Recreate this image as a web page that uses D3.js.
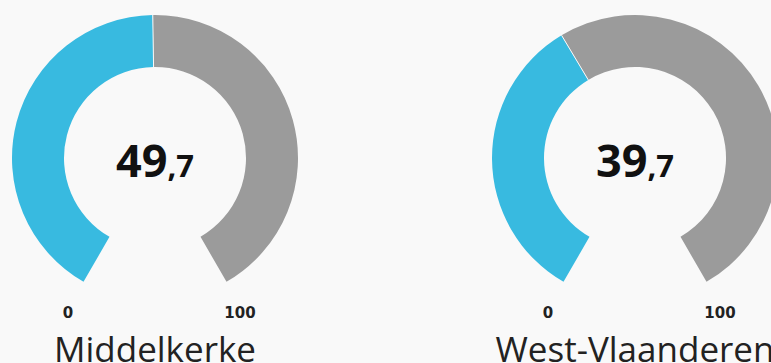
<!DOCTYPE html>
<html>
<head>
<meta charset="utf-8">
<script src="https://cdn.jsdelivr.net/npm/d3@7"></script>
<style>
  html, body { margin: 0; padding: 0; background: #f9f9f9; }
  svg { display: block; }
</style>
</head>
<body>
<svg id="chart" width="771" height="363"></svg>
<script>
// Gauge data: one gauge per region
const regions = ["Middelkerke", "West-Vlaanderen"];
const values = [49.7, 39.7];
const scaleDomain = [0, 100];
const tickLabels = ["0", "100"];

const W = 771, H = 363;
const centersX = [155, 635];
const cy = 158;
const outerR = 143, innerR = 91;
const sweep = 150 * Math.PI / 180;

const colorValue = "#38bae0";
const colorRest = "#9b9b9b";

const svg = d3.select("#chart");

const angle = d3.scaleLinear().domain(scaleDomain).range([-sweep, sweep]);
const arc = d3.arc().innerRadius(innerR).outerRadius(outerR);

regions.forEach((name, i) => {
  const v = values[i];
  const g = svg.append("g").attr("transform", `translate(${centersX[i]},${cy})`);

  // value part and remainder of the gauge
  g.append("path")
    .attr("d", arc({ startAngle: angle(scaleDomain[0]), endAngle: angle(v) }))
    .attr("fill", colorValue);
  g.append("path")
    .attr("d", arc({ startAngle: angle(v), endAngle: angle(scaleDomain[1]) }))
    .attr("fill", colorRest);

  // thin separator between the two segments
  const a = angle(v);
  g.append("line")
    .attr("x1", innerR * Math.sin(a)).attr("y1", -innerR * Math.cos(a))
    .attr("x2", outerR * Math.sin(a)).attr("y2", -outerR * Math.cos(a))
    .attr("stroke", "#f9f9f9").attr("stroke-width", 1);

  // central value, decimal part in a smaller size (Dutch decimal comma)
  const parts = d3.format(".1f")(v).split(".");
  const t = g.append("text")
    .attr("text-anchor", "middle")
    .attr("y", 19)
    .attr("font-family", "'Open Sans', sans-serif")
    .attr("font-weight", "bold")
    .attr("fill", "#111");
  t.append("tspan").attr("font-size", 45).text(parts[0]);
  t.append("tspan").attr("font-size", 31).text("," + parts[1]);

  // scale end labels
  [0, 1].forEach(k => {
    g.append("text")
      .attr("x", k === 0 ? -87 : 85)
      .attr("y", 160)
      .attr("text-anchor", "middle")
      .attr("font-family", "'DejaVu Sans', sans-serif")
      .attr("font-weight", "bold")
      .attr("font-size", 15)
      .attr("fill", "#222")
      .text(tickLabels[k]);
  });

  // region name
  g.append("text")
    .attr("y", 204)
    .attr("text-anchor", "middle")
    .attr("font-family", "'Open Sans', sans-serif")
    .attr("font-size", 35)
    .attr("fill", "#222")
    .text(name);
});
</script>
</body>
</html>
